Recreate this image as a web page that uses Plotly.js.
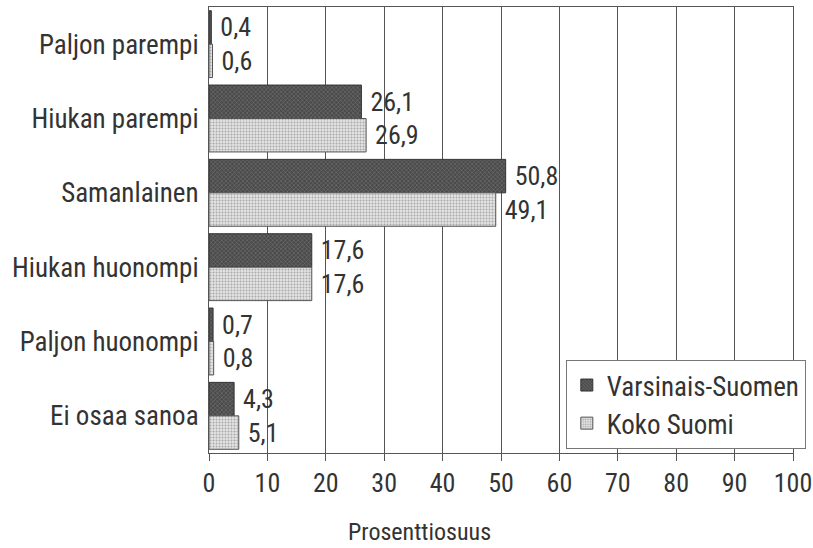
<!DOCTYPE html>
<html><head><meta charset="utf-8">
<script src="https://cdn.plot.ly/plotly-3.0.1.min.js"></script>
<style>body{margin:0;background:#fff}#c{width:813px;height:548px}</style>
</head><body><div id="c"></div>
<script>
const categories = ["Paljon parempi","Hiukan parempi","Samanlainen","Hiukan huonompi","Paljon huonompi","Ei osaa sanoa"];
const varsinaisSuomen = [0.4, 26.1, 50.8, 17.6, 0.7, 4.3];
const kokoSuomi = [0.6, 26.9, 49.1, 17.6, 0.8, 5.1];
const seriesNames = ["Varsinais-Suomen","Koko Suomi"];
const xTicks = [0,10,20,30,40,50,60,70,80,90,100];
const xTitle = "Prosenttiosuus";

const FONT = "'Liberation Sans Narrow', 'Roboto Condensed', 'Arial Narrow', Roboto, sans-serif";

const traces = [
  {type:'bar', orientation:'h', name:seriesNames[0], y:categories, x:varsinaisSuomen,
   marker:{color:'#555', line:{color:'#333', width:1},
     pattern:{shape:'x', bgcolor:'#4a4a4a', fgcolor:'#7a7a7a', size:3, solidity:0.3, fillmode:'replace'}},
   texttemplate:' %{x:.1f}', textposition:'outside', cliponaxis:false,
   textfont:{family:FONT, size:26, color:'#333'}},
  {type:'bar', orientation:'h', name:seriesNames[1], y:categories, x:kokoSuomi,
   marker:{color:'#ddd', line:{color:'#555', width:1},
     pattern:{shape:'.', bgcolor:'#e4e4e4', fgcolor:'#a8a8a8', size:3, solidity:0.35, fillmode:'replace'}},
   texttemplate:' %{x:.1f}', textposition:'outside', cliponaxis:false,
   textfont:{family:FONT, size:26, color:'#333'}}
];

const layout = {
  width:813, height:548,
  margin:{l:209, r:16, t:7, b:95},
  paper_bgcolor:'#fff', plot_bgcolor:'#fff',
  separators:', ',
  font:{family:FONT, size:26, color:'#333'},
  barmode:'group', bargap:0.1, bargroupgap:0,
  xaxis:{range:[0,100], tickvals:xTicks, ticks:'outside', ticklen:7, tickcolor:'#555',
    showgrid:true, gridcolor:'#555', gridwidth:1, zeroline:false,
    showline:true, linecolor:'#555', linewidth:1, mirror:true,
    tickfont:{family:FONT, size:26, color:'#333'}},
  yaxis:{autorange:'reversed', showline:true, linecolor:'#555', linewidth:1, mirror:true, ticks:'',
    ticklabelstandoff:4, tickfont:{family:FONT, size:27, color:'#333'}, showgrid:false},
  annotations:[{text:xTitle, xref:'paper', yref:'paper', x:0.36, y:-0.178,
    xanchor:'center', yanchor:'middle', showarrow:false,
    font:{family:FONT, size:24, color:'#333'}}],
  showlegend:true,
  legend:{x:0.611, y:0.009, xanchor:'left', yanchor:'bottom', bgcolor:'#fff',
    bordercolor:'#777', borderwidth:1, font:{family:FONT, size:27, color:'#333'},
    traceorder:'normal', itemwidth:30, tracegroupgap:0}
};
Plotly.newPlot('c', traces, layout, {displayModeBar:false, staticPlot:true});
</script></body></html>
